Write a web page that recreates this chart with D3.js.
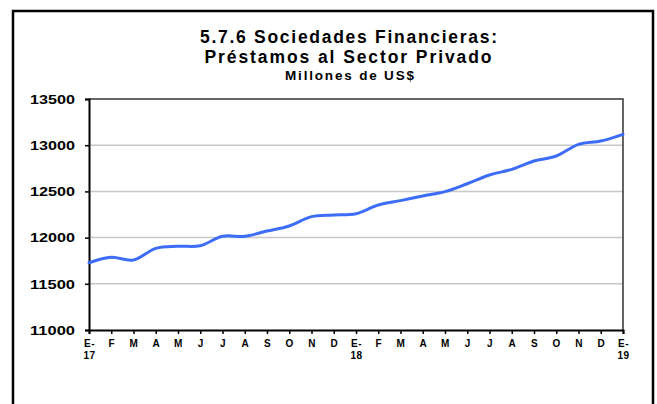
<!DOCTYPE html>
<html>
<head>
<meta charset="utf-8">
<script src="https://cdn.jsdelivr.net/npm/d3@7"></script>
<style>
html,body{margin:0;padding:0;background:#fff;}
svg{display:block;}
text{font-family:"Liberation Sans",Arial,sans-serif;font-weight:bold;fill:#000;}
</style>
</head>
<body>
<svg id="chart" width="657" height="404"></svg>
<script>
// ---- data ----
const months = ["E-|17","F","M","A","M","J","J","A","S","O","N","D","E-|18","F","M","A","M","J","J","A","S","O","N","D","E-|19"];
const values = [11728,11787,11758,11884,11906,11912,12014,12014,12071,12126,12227,12245,
                12259,12353,12400,12450,12497,12583,12677,12739,12829,12883,13009,13045,13118];
const yTicks = [11000,11500,12000,12500,13000,13500];
const titleLines = ["5.7.6 Sociedades Financieras:","Préstamos al Sector Privado","Millones de US$"];

// ---- layout ----
const svg = d3.select("#chart");
const L = 89, R = 623, T = 99, B = 330;

// outer border
svg.append("rect").attr("x",13).attr("y",11).attr("width",640).attr("height",420)
  .attr("fill","none").attr("stroke","#000").attr("stroke-width",2.5);

const x = d3.scalePoint().domain(d3.range(months.length)).range([L,R]);
const y = d3.scaleLinear().domain([11000,13500]).range([B,T]);

// gridlines
svg.append("g").selectAll("line").data(yTicks.filter(v=>v>11000 && v<13500)).join("line")
  .attr("x1",L).attr("x2",R).attr("y1",d=>y(d)).attr("y2",d=>y(d))
  .attr("stroke","#c8c8c8").attr("stroke-width",1.5);

// plot frame top/right
svg.append("path").attr("d",`M${L},${T}H${R}V${B}`).attr("fill","none")
  .attr("stroke","#333").attr("stroke-width",1.5);

// y axis
const yAxis = svg.append("g").attr("transform",`translate(${L},0)`)
  .call(d3.axisLeft(y).tickValues(yTicks).tickSize(4).tickPadding(10).tickFormat(d3.format("d")));
yAxis.select(".domain").attr("stroke","#000").attr("stroke-width",2);
yAxis.selectAll(".tick line").attr("stroke","#000").attr("stroke-width",1.5);
yAxis.selectAll(".tick text").attr("font-size",13.5).attr("font-family","Liberation Sans, Arial, sans-serif")
  .attr("font-weight","bold").attr("fill","#000").attr("textLength",45).attr("lengthAdjust","spacingAndGlyphs");

// x axis
const xAxis = svg.append("g").attr("transform",`translate(0,${B})`)
  .call(d3.axisBottom(x).tickSize(4).tickFormat(""));
xAxis.select(".domain").attr("stroke","#000").attr("stroke-width",2);
xAxis.selectAll(".tick line").attr("stroke","#000").attr("stroke-width",1.5);
xAxis.selectAll(".tick").each(function(d){
  const parts = months[d].split("|");
  const g = d3.select(this);
  parts.forEach((p,i)=>{
    g.append("text").attr("x",0).attr("y",16.5+i*12.5).attr("text-anchor","middle")
      .attr("font-size",10).attr("letter-spacing",0.5).attr("font-family","Liberation Sans, Arial, sans-serif")
      .attr("font-weight","bold").attr("fill","#000").text(p);
  });
});

// line
const line = d3.line().x((d,i)=>x(i)).y(d=>y(d)).curve(d3.curveCardinal.tension(0));
svg.append("path").datum(values).attr("d",line).attr("fill","none")
  .attr("stroke","#3d6cf7").attr("stroke-width",3).attr("stroke-linecap","round");

// title
const tspec = [{size:17.5,y:43,len:297,cx:348.5},{size:17.5,y:63,len:287,cx:348},{size:13.5,y:80,len:129,cx:349.5}];
titleLines.forEach((t,i)=>{
  svg.append("text").attr("x",tspec[i].cx).attr("y",tspec[i].y).attr("text-anchor","middle")
    .attr("font-size",tspec[i].size).attr("textLength",tspec[i].len).attr("lengthAdjust","spacing")
    .text(t);
});
</script>
</body>
</html>
